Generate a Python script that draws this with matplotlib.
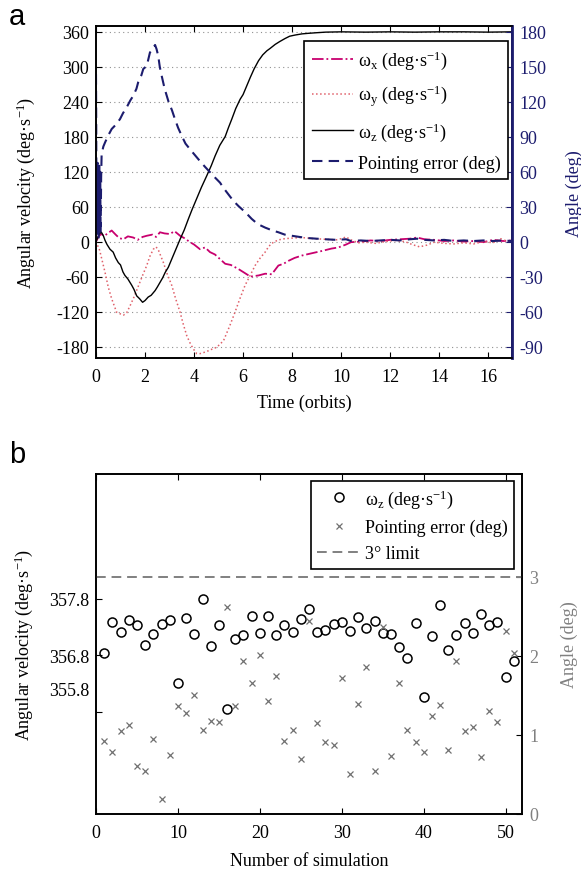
import matplotlib
matplotlib.use("Agg")
import matplotlib.pyplot as plt
import matplotlib.transforms as mtransforms

plt.rcParams['font.family'] = ['Liberation Serif', 'DejaVu Serif']
plt.rcParams['mathtext.fontset'] = 'custom'
plt.rcParams['mathtext.rm'] = 'Liberation Serif'
plt.rcParams['mathtext.it'] = 'Liberation Serif:italic'
plt.rcParams['axes.linewidth'] = 1.2
plt.rcParams['axes.unicode_minus'] = False

# ---------------- panel a data ----------------
t_wz = [0.0, 0.08, 0.15, 0.22, 0.3, 0.37, 0.45, 0.57, 0.7, 0.8, 0.91, 1.0, 1.1, 1.18, 1.3, 1.46,
        1.55, 1.66, 1.78, 1.9, 2.0, 2.13, 2.25, 2.41, 2.5, 2.61, 2.72, 2.82, 2.95, 3.09, 3.25,
        3.43, 3.6, 3.77, 3.92, 4.1, 4.3, 4.52, 4.7, 4.86, 5.05, 5.27, 5.4, 5.54, 5.7, 5.88, 6.0,
        6.15, 6.3, 6.45, 6.63, 6.8, 6.97, 7.1, 7.31, 7.5, 7.71, 7.9, 8.12, 8.4, 8.67, 9.0, 9.37,
        10.0, 11.0, 12.0, 13.0, 14.0, 15.0, 16.0, 16.97]
wz = [0, 8, 14, 16, 10, 2, -5, -13, -18, -28, -36, -40, -52, -58, -64, -75,
      -82, -93, -98, -104, -101, -95, -92, -84, -78, -70, -62, -53, -44, -30, -14,
      4, 20, 39, 55, 73, 93, 113, 130, 147, 165, 180, 195, 210, 228, 244, 252,
      267, 282, 296, 310, 320, 327, 331, 338, 343, 348, 352, 354, 356, 357, 358, 359,
      359.5, 359, 359.5, 359, 359.5, 359.5, 359, 359.5]

t_wx = [0, 0.1, 0.2, 0.35, 0.5, 0.64, 0.8, 0.95, 1.12, 1.3, 1.52, 1.7, 1.9, 2.07, 2.3, 2.45,
        2.61, 2.8, 3.02, 3.2, 3.43, 3.6, 3.84, 4.0, 4.24, 4.45, 4.65, 4.85, 5.06, 5.27, 5.5,
        5.81, 6.0, 6.3, 6.63, 6.9, 7.17, 7.44, 7.65, 7.85, 8.1, 8.39, 8.8, 9.22, 9.6, 9.89,
        10.2, 10.4, 10.8, 11.2, 11.6, 12.0, 12.4, 12.8, 13.1, 13.4, 13.8, 14.2, 14.6, 15.0,
        15.4, 15.8, 16.2, 16.6, 16.97]
wx = [0, 8, 13, 10, 15, 19, 12, 6, 4, 9, 7, 3, 8, 10, 12, 8,
      16, 14, 13, 18, 10, 6, -1, -5, -13, -10, -18, -22, -30, -38, -40,
      -47, -52, -60, -58, -55, -56, -41, -38, -33, -28, -24, -20, -16, -12, -10,
      -5, -1, 0, 2, 1, 3, 4, 5, 7, 4, 3, 1, 2, 0,
      1, -1, 3, 1, 2]

t_wy = [0, 0.15, 0.37, 0.5, 0.64, 0.84, 1.0, 1.12, 1.25, 1.39, 1.55, 1.73, 1.9, 2.07, 2.2,
        2.34, 2.45, 2.55, 2.75, 2.9, 3.09, 3.25, 3.43, 3.55, 3.7, 3.85, 3.97, 4.11, 4.24, 4.4,
        4.59, 4.75, 4.93, 5.05, 5.2, 5.3, 5.45, 5.67, 5.85, 6.08, 6.3, 6.49, 6.7, 6.9, 7.05,
        7.24, 7.45, 7.7, 8.0, 8.39, 8.9, 9.35, 9.8, 10.0, 10.2, 10.4, 10.7, 11.0, 11.4, 11.8,
        12.2, 12.6, 12.9, 13.2, 13.5, 13.8, 14.2, 14.6, 15.0, 15.4, 15.8, 16.2, 16.5, 16.8, 16.97]
wy = [0, -15, -53, -78, -98, -121, -124, -126, -122, -110, -95, -76, -58, -41, -25,
      -13, -9, -15, -36, -55, -75, -98, -121, -140, -161, -175, -184, -192, -192, -190,
      -187, -184, -181, -176, -170, -160, -145, -121, -100, -75, -57, -41, -28, -18, -8,
      -1, 3, 5, 6, 7, 5, 4, 3, 5, 8, 3, -2, -1, -3, 0,
      2, 0, -5, -9, -6, -1, -3, -4, -2, -4, 0, -2, 5, 0, 1]

t_pe = [0, 0.01, 0.02, 0.035, 0.05, 0.065, 0.08, 0.095, 0.11, 0.13, 0.15, 0.17, 0.19, 0.21, 0.23,
        0.3, 0.37, 0.5, 0.64, 0.8, 0.98, 1.1, 1.25, 1.4, 1.52,
        1.65, 1.72, 1.85, 1.93, 2.07, 2.2, 2.3, 2.41, 2.47, 2.54,
        2.6, 2.68, 2.8, 2.95, 3.1, 3.22, 3.35, 3.5, 3.65, 3.84,
        4.0, 4.24, 4.45, 4.65, 4.85, 5.06, 5.2, 5.4, 5.6, 5.81,
        6.1, 6.35, 6.6, 6.9, 7.2, 7.44, 7.7, 7.99, 8.3, 8.67,
        9.0, 9.37, 9.8, 10.2, 10.4, 10.8, 11.2, 11.6, 12.0, 12.4,
        12.8, 13.1, 13.4, 13.8, 14.2, 14.6, 15.0, 15.4, 15.8, 16.2,
        16.6, 16.97]
pe = [143.5, 100, 15, 65, 5, 67.5, 10, 62.5, 2.5, 65, 20, 60, 7.5, 55, 75,
      81.5, 85, 91, 96.5, 100, 105, 110, 115, 121, 125,
      131, 136.5, 142.5, 148, 150.5, 162, 165, 168.5, 165, 159,
      150, 142, 131, 120.5, 112.5, 105, 97.5, 90.5, 84, 79,
      75, 69, 64, 59.5, 55, 50.5, 46, 40.5, 35, 30.5,
      25, 19.5, 15, 12, 9.5, 8, 6, 5, 4, 3,
      2.5, 2, 1.5, 2, 0.5, 1, 0.5, 1, 1.5, 1,
      2, 2.5, 1.5, 1, 1.5, 0.5, 1, 0.5, 1, 0.5,
      1, 0.5]

# ---------------- panel b data ----------------
sim = list(range(1, 52))
wz_sim = [356.85, 357.39, 357.22, 357.43, 357.34, 356.98, 357.17, 357.36, 357.42, 356.31,
          357.46, 357.18, 357.80, 356.96, 357.34, 355.85, 357.09, 357.16, 357.49, 357.19,
          357.50, 357.16, 357.33, 357.22, 357.44, 357.62, 357.21, 357.24, 357.36, 357.38,
          357.23, 357.47, 357.29, 357.41, 357.20, 357.17, 356.95, 356.76, 357.37, 356.06,
          357.15, 357.69, 356.90, 357.16, 357.37, 357.19, 357.53, 357.34, 357.38, 356.42,
          356.70]
pe_sim = [0.92, 0.79, 1.05, 1.13, 0.61, 0.54, 0.95, 0.19, 0.74, 1.36,
          1.28, 1.50, 1.06, 1.18, 1.16, 2.62, 1.36, 1.93, 1.66, 2.01,
          1.43, 1.74, 0.92, 1.06, 0.69, 2.44, 1.15, 0.91, 0.87, 1.72,
          0.50, 1.39, 1.86, 0.55, 2.37, 0.73, 1.66, 1.06, 0.91, 0.79,
          1.24, 1.38, 0.81, 1.93, 1.05, 1.10, 0.72, 1.30, 1.16, 2.32,
          2.04]
limit_deg = 3

navy = '#1c1c6e'
magenta = '#c8006e'
pink = '#e0606a'
grey = '#808080'

fig = plt.figure(figsize=(5.81, 8.70), dpi=100)

# ---------------- panel a ----------------
ax = fig.add_axes([96/581, 1-359.3/870, 416/581, 332/870])
ax2 = ax.twinx()
l1, = ax.plot(t_wx, wx, color=magenta, lw=1.3, ls='-.')
l2, = ax.plot(t_wy, wy, color=pink, lw=1.1, ls=':')
l3, = ax.plot(t_wz, wz, color='black', lw=1.0, ls='-')
l4, = ax2.plot(t_pe, pe, color=navy, lw=1.5, ls=(0, (5, 3)))
ax.set_xlim(0, 16.97)
ax.set_ylim(-200, 369)
ax2.set_ylim(-100, 184.5)
ax.set_yticks([-180, -120, -60, 0, 60, 120, 180, 240, 300, 360])
ax2.set_yticks([-90, -60, -30, 0, 30, 60, 90, 120, 150, 180])
ax.set_xticks(range(0, 17, 2))
ax.yaxis.grid(True, ls=(0, (1, 3)), color='#909090', lw=0.8)
ax.tick_params(direction='in', labelsize=13, top=True, length=4)
ax.tick_params(axis='x', pad=7)
ax.tick_params(axis='y', pad=5)
ax2.tick_params(direction='in', labelsize=13, colors=navy, length=4, pad=5)
ax2.spines['right'].set_color(navy)
ax2.spines['right'].set_linewidth(2.0)
ax.set_xlabel('Time (orbits)', fontsize=13, labelpad=6)
ax.set_ylabel('Angular velocity (deg·s$^{\\mathrm{-1}}$)', fontsize=13, labelpad=14)
ax2.set_ylabel('Angle (deg)', fontsize=13, color=navy, labelpad=14)
leg = ax2.legend([l1, l2, l3, l4],
                 ['ω$_{\\mathrm{x}}$ (deg·s$^{\\mathrm{-1}}$)',
                  'ω$_{\\mathrm{y}}$ (deg·s$^{\\mathrm{-1}}$)',
                  'ω$_{\\mathrm{z}}$ (deg·s$^{\\mathrm{-1}}$)',
                  'Pointing error (deg)'],
                 loc='upper right', bbox_to_anchor=(1 - 4/416, 1 - 15/332),
                 borderaxespad=0, fontsize=13, fancybox=False, framealpha=1,
                 edgecolor='black', handlelength=2.3, labelspacing=0.65,
                 handletextpad=0.25, borderpad=0.42)
leg.get_frame().set_linewidth(1.2)
fig.text(9/581, 1-25/870, 'a', fontsize=21, family='Liberation Sans')

# ---------------- panel b ----------------
bx = fig.add_axes([96/581, 1-815/870, 426/581, 340/870])
bx2 = bx.twinx()
h1, = bx.plot(sim, wz_sim, ls='none', marker='o', ms=6.5, mfc='none', mec='black', mew=1.1)
h2, = bx2.plot(sim, pe_sim, ls='none', marker='x', ms=4, mec='#707070', mew=0.9)
h3 = bx2.axhline(limit_deg, color=grey, ls=(0, (5, 3)), lw=1.4)
bx.set_xlim(0, 52)
bx.set_ylim(354, 360)
bx2.set_ylim(0, 4.3)
bx.set_xticks(range(0, 51, 10))
bx.set_yticks([355.8, 356.8, 357.8])
bx2.set_yticks([0, 1, 2, 3])
bx.tick_params(direction='in', labelsize=13, top=True, length=4)
bx.tick_params(axis='x', pad=7)
bx.tick_params(axis='y', pad=5)
bx2.tick_params(direction='in', labelsize=13, labelcolor=grey, length=4, pad=5)
bx.set_xlabel('Number of simulation', fontsize=13, labelpad=8)
bx.set_ylabel('Angular velocity (deg·s$^{\\mathrm{-1}}$)', fontsize=13, labelpad=10)
bx2.set_ylabel('Angle (deg)', fontsize=13, color=grey, labelpad=16)
# the lowest left label sits above its tick in the original figure
lab = bx.yaxis.get_major_ticks()[0].label1
lab.set_transform(lab.get_transform() +
                  mtransforms.ScaledTranslation(0, 0.23, fig.dpi_scale_trans))
leg2 = bx2.legend([h1, h2, h3],
                  ['ω$_{\\mathrm{z}}$ (deg·s$^{\\mathrm{-1}}$)',
                   'Pointing error (deg)', '3° limit'],
                  loc='upper right', bbox_to_anchor=(1 - 8/426, 1 - 7/340),
                  borderaxespad=0, fontsize=13, fancybox=False, framealpha=1,
                  edgecolor='black', handlelength=2.4, labelspacing=0.5,
                  handletextpad=0.25, borderpad=0.35)
leg2.get_frame().set_linewidth(1.2)
fig.text(9/581, 1-463/870, 'b', fontsize=21, family='Liberation Sans')

fig.savefig('out.png', dpi=100)
